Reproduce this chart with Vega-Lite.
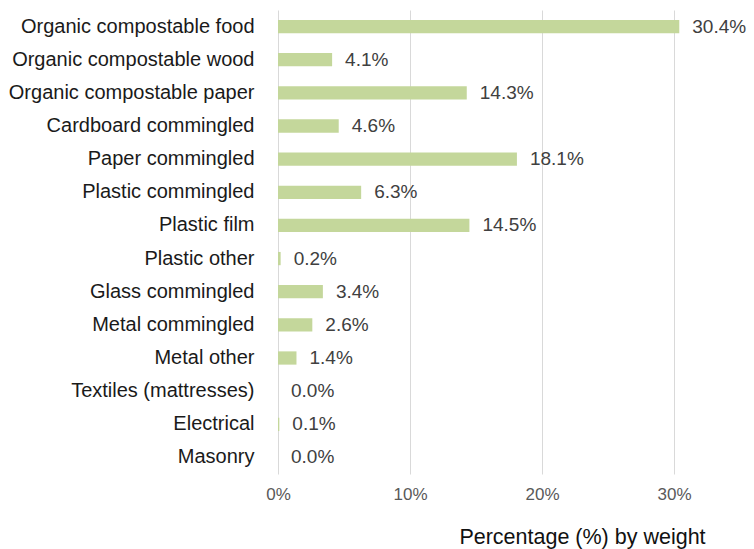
{
  "$schema": "https://vega.github.io/schema/vega-lite/v6.json",
  "autosize": {"type": "none"},
  "padding": {"left": 278, "top": 10, "right": 14, "bottom": 75},
  "width": 462,
  "height": 464,
  "background": "white",
  "config": {"view": {"stroke": null}, "font": "Liberation Sans"},
  "data": {"values": [
    {"category": "Organic compostable food", "pct": 0.304},
    {"category": "Organic compostable wood", "pct": 0.041},
    {"category": "Organic compostable paper", "pct": 0.143},
    {"category": "Cardboard commingled", "pct": 0.046},
    {"category": "Paper commingled", "pct": 0.181},
    {"category": "Plastic commingled", "pct": 0.063},
    {"category": "Plastic film", "pct": 0.145},
    {"category": "Plastic other", "pct": 0.002},
    {"category": "Glass commingled", "pct": 0.034},
    {"category": "Metal commingled", "pct": 0.026},
    {"category": "Metal other", "pct": 0.014},
    {"category": "Textiles (mattresses)", "pct": 0.0},
    {"category": "Electrical", "pct": 0.001},
    {"category": "Masonry", "pct": 0.0}
  ]},
  "encoding": {
    "y": {
      "field": "category", "type": "nominal", "sort": null,
      "scale": {"paddingInner": 0.6, "paddingOuter": 0.3},
      "axis": {"title": null, "domain": false, "ticks": false, "labelPadding": 24,
               "labelFontSize": 20, "labelColor": "#1a1a1a", "labelLimit": 300}
    },
    "x": {
      "field": "pct", "type": "quantitative",
      "scale": {"domain": [0, 0.35], "nice": false},
      "axis": {"title": "Percentage (%) by weight", "format": ".0%", "values": [0, 0.1, 0.2, 0.3],
               "domain": false, "ticks": false, "grid": true, "gridColor": "#d9d9d9",
               "labelFontSize": 17, "labelColor": "#595959", "labelPadding": 12, "labelFlush": false,
               "titleFontSize": 21.5, "titleFontWeight": "normal", "titleColor": "#111111",
               "titleX": 304, "titleY": 63, "titleAlign": "center", "titleBaseline": "middle"}
    }
  },
  "layer": [
    {"mark": {"type": "bar", "color": "#c4d79b"}},
    {"mark": {"type": "text", "align": "left", "dx": 13, "fontSize": 19, "color": "#404040", "baseline": "middle"},
     "encoding": {"text": {"field": "pct", "type": "quantitative", "format": ".1%"}}}
  ]
}
